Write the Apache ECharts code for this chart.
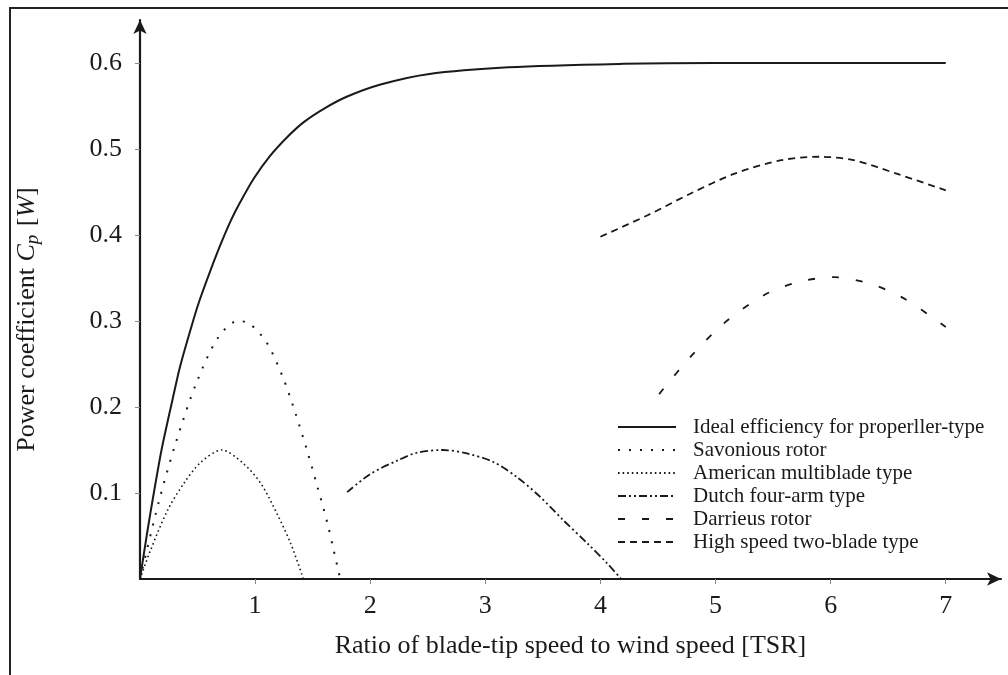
<!DOCTYPE html>
<html>
<head>
<meta charset="utf-8">
<title>Power coefficient vs TSR</title>
<script src="https://cdn.jsdelivr.net/npm/echarts@6/dist/echarts.min.js"></script>
<style>
    html, body { margin: 0; padding: 0; background: #fff; }
    #chart { width: 1008px; height: 675px; }
</style>
</head>
<body>
<div id="chart"></div>
<script>
// 数据 (x = TSR, y = Cp)
var seriesNames = [
    'Ideal efficiency for properller-type',
    'Savonious rotor',
    'American multiblade type',
    'Dutch four-arm type',
    'Darrieus rotor',
    'High speed two-blade type'
];
var xTicks = [1, 2, 3, 4, 5, 6, 7];
var yTicks = [0.1, 0.2, 0.3, 0.4, 0.5, 0.6];

var ideal = [[0, 0], [0.06, 0.052], [0.12, 0.1], [0.19, 0.152], [0.28, 0.207], [0.35, 0.248],
    [0.47, 0.304], [0.52, 0.325], [0.61, 0.358], [0.70, 0.389], [0.79, 0.417], [0.87, 0.438],
    [0.99, 0.466], [1.13, 0.492], [1.28, 0.514], [1.42, 0.531], [1.6, 0.547], [1.8, 0.561],
    [2.09, 0.575], [2.5, 0.587], [3.2, 0.595], [4.2, 0.599], [5, 0.6], [6, 0.6], [7, 0.6]];
var savonius = [[0, 0], [0.16, 0.088], [0.31, 0.158], [0.49, 0.228], [0.68, 0.281], [0.85, 0.3],
    [0.95, 0.297], [1.1, 0.275], [1.24, 0.235], [1.35, 0.193], [1.45, 0.15], [1.54, 0.108],
    [1.63, 0.064], [1.68, 0.035], [1.74, 0]];
var american = [[0, 0], [0.09, 0.033], [0.24, 0.08], [0.38, 0.111], [0.53, 0.136], [0.71, 0.15],
    [0.9, 0.134], [1.05, 0.111], [1.19, 0.076], [1.31, 0.041], [1.42, 0]];
var dutch = [[1.8, 0.101], [2.0, 0.122], [2.24, 0.138], [2.41, 0.147], [2.63, 0.15], [2.84, 0.146],
    [3.07, 0.136], [3.28, 0.118], [3.48, 0.095], [3.68, 0.068], [3.89, 0.041], [4.06, 0.018], [4.18, 0]];
var darrieus = [[4.51, 0.215], [4.78, 0.258], [5.07, 0.297], [5.42, 0.33], [5.71, 0.345],
    [6.03, 0.351], [6.35, 0.343], [6.64, 0.326], [7.0, 0.293]];
var highSpeed = [[4.0, 0.398], [4.41, 0.423], [4.78, 0.448], [5.16, 0.471], [5.57, 0.487],
    [5.91, 0.491], [6.2, 0.487], [6.58, 0.471], [7.0, 0.452]];

var FONT = 'Liberation Serif';
var INK = '#1a1a1a';

// 线型 (dash 数组)
var styles = [
    { width: 2, type: 'solid' },
    { width: 2, type: [2, 9] },
    { width: 1.6, type: [1.6, 3] },
    { width: 1.8, type: [8, 3, 2, 3, 2, 3] },
    { width: 1.8, type: [7, 17] },
    { width: 1.8, type: [7, 5] }
];
var allData = [ideal, savonius, american, dutch, darrieus, highSpeed];

function makeSeries() {
    var list = [];
    for (var i = 0; i < allData.length; i++) {
        list.push({
            name: seriesNames[i],
            type: 'line',
            data: allData[i],
            xAxisIndex: 0,
            yAxisIndex: 0,
            smooth: 0.3,
            symbol: 'none',
            lineStyle: { color: INK, width: styles[i].width, type: styles[i].type },
            itemStyle: { color: INK }
        });
    }
    return list;
}

function baseX(inside) {
    return {
        type: 'value',
        min: 0,
        max: 7.48,
        interval: 1,
        splitLine: { show: false },
        axisLine: inside ? { show: false } : {
            show: true,
            symbol: ['none', 'arrow'],
            symbolSize: [10, 14],
            lineStyle: { color: INK, width: 2.2 }
        },
        axisTick: {
            show: true,
            inside: inside,
            length: 5,
            customValues: xTicks,
            lineStyle: { color: '#888', width: 1 }
        },
        axisLabel: inside ? { show: false } : {
            show: true,
            margin: 14,
            customValues: xTicks,
            fontFamily: FONT,
            fontSize: 26,
            color: INK
        }
    };
}

function baseY(inside) {
    return {
        type: 'value',
        min: 0,
        max: 0.65,
        interval: 0.1,
        splitLine: { show: false },
        axisLine: inside ? { show: false } : {
            show: true,
            symbol: ['none', 'arrow'],
            symbolSize: [10, 14],
            lineStyle: { color: INK, width: 2.2 }
        },
        axisTick: {
            show: true,
            inside: inside,
            length: 5,
            customValues: yTicks,
            lineStyle: { color: '#888', width: 1 }
        },
        axisLabel: inside ? { show: false } : {
            show: true,
            margin: 18,
            customValues: yTicks,
            formatter: function (v) { return v.toFixed(1); },
            fontFamily: FONT,
            fontSize: 26,
            color: INK
        }
    };
}

var xMain = baseX(false);
xMain.name = 'Ratio of blade-tip speed to wind speed [TSR]';
xMain.nameLocation = 'middle';
xMain.nameGap = 54;
xMain.nameTextStyle = { fontFamily: FONT, fontSize: 26, color: INK };

var yMain = baseY(false);
yMain.name = '{n|Power coefficient }{i|C}{s|p}{n| [}{i|W}{n|]}';
yMain.nameLocation = 'middle';
yMain.nameGap = 98;
yMain.nameRotate = 90;
yMain.nameTextStyle = {
    fontFamily: FONT, fontSize: 26, color: INK,
    padding: [0, 40, 0, 0],
    rich: {
        n: { fontFamily: FONT, fontSize: 26, color: INK, lineHeight: 30 },
        i: { fontFamily: FONT, fontSize: 26, fontStyle: 'italic', color: INK, lineHeight: 30 },
        s: { fontFamily: FONT, fontSize: 19, fontStyle: 'italic', color: INK, lineHeight: 30, verticalAlign: 'bottom', padding: [9, 2, 0, 0] }
    }
};

var option = {
    animation: false,
    backgroundColor: '#fff',
    grid: { left: 140, right: 7, top: 20, bottom: 96 },
    xAxis: [xMain, baseX(true)],
    yAxis: [yMain, baseY(true)],
    legend: {
        orient: 'vertical',
        left: 612,
        top: 411,
        itemWidth: 58,
        itemHeight: 14,
        itemGap: 1,
        data: seriesNames,
        itemStyle: { opacity: 0 },
        textStyle: { fontFamily: FONT, fontSize: 21, color: INK, lineHeight: 22, padding: [0, 0, 0, 12] }
    },
    graphic: [{
        type: 'rect',
        silent: true,
        shape: { x: 10, y: 8, width: 1200, height: 900 },
        style: { fill: 'none', stroke: '#222', lineWidth: 2 }
    }],
    series: makeSeries()
};

var myChart = echarts.init(document.getElementById('chart'));
myChart.setOption(option);
window.onresize = myChart.resize;
</script>
</body>
</html>
